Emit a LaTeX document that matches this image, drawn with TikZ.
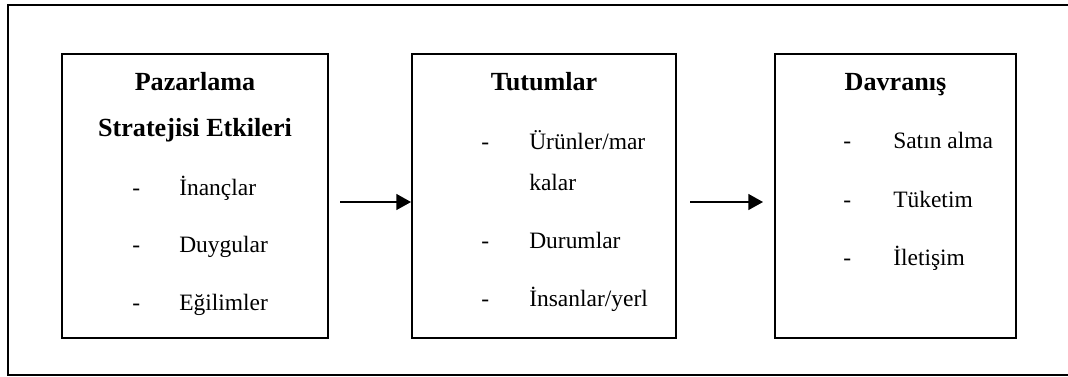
\documentclass[tikz,border=0pt]{standalone}
\usepackage{fontspec}
\setmainfont{Liberation Serif}
\usetikzlibrary{arrows.meta}
\tikzset{
  box/.style={draw, line width=1.5pt, inner sep=0pt, minimum height=213pt},
  ttl/.style={anchor=base, inner sep=0pt, font=\fontsize{19.6pt}{22pt}\selectfont\bfseries},
  itm/.style={anchor=base west, inner sep=0pt, font=\fontsize{17.6pt}{21pt}\selectfont},
  arr/.style={line width=1pt, -{Triangle[length=11pt,width=12pt]}},
  frame/.style={line width=1.1pt}
}
\begin{document}
\begin{tikzpicture}[x=0.75pt, y=-0.75pt]
\useasboundingbox (0,0) rectangle (1068,376);

% outer frame, open on the right
\coordinate (ftr) at (1070,5);
\coordinate (ftl) at (8,5);
\coordinate (fbl) at (8,375);
\coordinate (fbr) at (1070,375);
\draw[frame] (ftr) -- (ftl) -- (fbl) -- (fbr);

% the three boxes
\node[box, minimum width=199.5pt] (b1) at (195,196) {};
\node[box, minimum width=198pt]   (b2) at (544,196) {};
\node[box, minimum width=180.75pt] (b3) at (895.5,196) {};

% box 1
\node[ttl] (t1a) at (195,90) {Pazarlama};
\node[ttl] (t1b) at (195,136) {Stratejisi Etkileri};
\node[itm] (d11) at (132,195) {-};
\node[itm] (i11) at (179,195) {İnançlar};
\node[itm] (d12) at (132,252) {-};
\node[itm] (i12) at (179,252) {Duygular};
\node[itm] (d13) at (132,310) {-};
\node[itm] (i13) at (179,310) {Eğilimler};

% box 2
\node[ttl] (t2) at (544,90) {Tutumlar};
\node[itm] (d21) at (481,149) {-};
\node[itm] (i21) at (529,149) {Ürünler/mar};
\node[itm] (i21b) at (529,190) {kalar};
\node[itm] (d22) at (481,248) {-};
\node[itm] (i22) at (529,248) {Durumlar};
\node[itm] (d23) at (481,306) {-};
\node[itm] (i23) at (529,306) {İnsanlar/yerl};

% box 3
\node[ttl] (t3) at (895.5,90) {Davranış};
\node[itm] (d31) at (843,148) {-};
\node[itm] (i31) at (893,148) {Satın alma};
\node[itm] (d32) at (843,207) {-};
\node[itm] (i32) at (893,207) {Tüketim};
\node[itm] (d33) at (843,265) {-};
\node[itm] (i33) at (893,265) {İletişim};

% arrows
\coordinate (a1s) at (340,202);
\coordinate (a2s) at (690,202);
\coordinate (a2e) at (763,202);
\draw[arr] (a1s) -- (a1s -| b2.west);
\draw[arr] (a2s) -- (a2e);
\end{tikzpicture}
\end{document}
